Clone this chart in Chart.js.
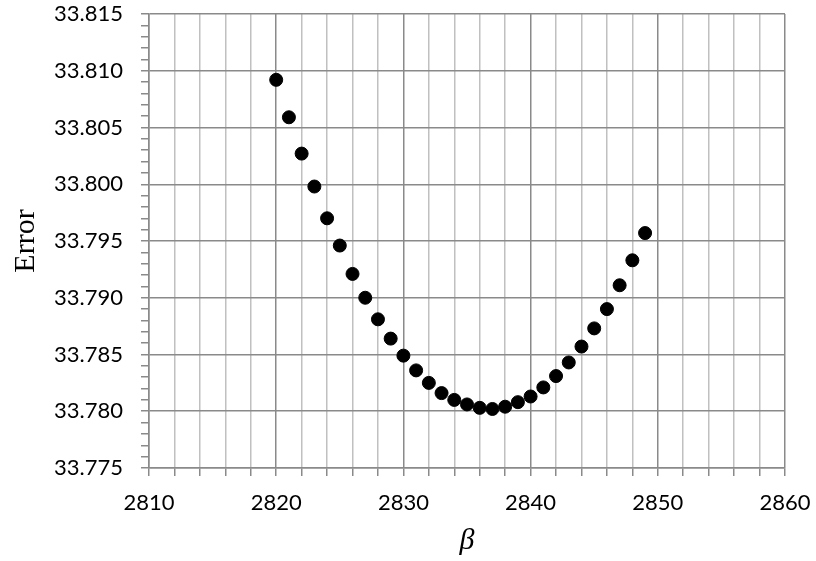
<!DOCTYPE html>
<html>
<head>
<meta charset="utf-8">
<script src="https://cdn.jsdelivr.net/npm/chart.js@4/dist/chart.umd.min.js"></script>
<style>
  html, body { margin: 0; padding: 0; background: #fff; }
  #wrap { width: 816px; height: 561px; }
</style>
</head>
<body>
<div id="wrap"><canvas id="chart" width="816" height="561"></canvas></div>
<script>
// beta values and the error at each one
const betas = [2820, 2821, 2822, 2823, 2824, 2825, 2826, 2827, 2828, 2829,
               2830, 2831, 2832, 2833, 2834, 2835, 2836, 2837, 2838, 2839,
               2840, 2841, 2842, 2843, 2844, 2845, 2846, 2847, 2848, 2849];
const errors = [33.8092, 33.8059, 33.8027, 33.7998, 33.7970, 33.7946, 33.7921, 33.7900, 33.7881, 33.7864,
                33.7849, 33.7836, 33.7825, 33.7816, 33.7810, 33.7806, 33.7803, 33.7802, 33.7804, 33.7808,
                33.7813, 33.7821, 33.7831, 33.7843, 33.7857, 33.7873, 33.7890, 33.7911, 33.7933, 33.7957];

const xMin = 2810, xMax = 2860;
const yMin = 33.775, yMax = 33.815;

const points = betas.map((b, i) => ({ x: b, y: errors[i] }));

const MAJOR = '#8a8a8a';
const MINOR = '#c0c0c0';
const tickFont = { family: 'Lato', size: 22 };

const isMajorY = v => Math.round(v * 1000) % 5 === 0;

new Chart(document.getElementById('chart'), {
  type: 'scatter',
  data: {
    datasets: [{
      data: points,
      backgroundColor: '#000',
      borderColor: '#000',
      pointRadius: 6.5,
      pointHoverRadius: 6.5
    }]
  },
  options: {
    responsive: false,
    animation: false,
    layout: { padding: { top: 14, right: 31, left: 0, bottom: 0 } },
    plugins: { legend: { display: false }, tooltip: { enabled: false } },
    scales: {
      x: {
        type: 'linear',
        min: xMin,
        max: xMax,
        // fixed axis box; edge labels may overhang into the outer padding
        afterFit: axis => { axis.height = 93; axis.paddingLeft = 0; axis.paddingRight = 0; },
        border: { color: MAJOR, width: 1.5 },
        grid: {
          color: ctx => (ctx.tick && ctx.tick.value % 10 === 0) ? MAJOR : MINOR,
          lineWidth: 1.5,
          tickColor: MAJOR,
          tickLength: 8
        },
        ticks: {
          stepSize: 2,
          autoSkip: false,
          maxRotation: 0,
          color: '#000',
          font: tickFont,
          padding: 14,
          callback: v => (v % 10 === 0 ? String(v) : '')
        },
        title: {
          display: true,
          text: 'β',
          color: '#000',
          font: { family: 'Liberation Serif', size: 30, style: 'italic' },
          padding: { top: 0, bottom: 2 }
        }
      },
      y: {
        type: 'linear',
        min: yMin,
        max: yMax,
        afterFit: axis => { axis.width = 149; axis.paddingTop = 0; axis.paddingBottom = 0; },
        border: { color: MAJOR, width: 1.5 },
        grid: {
          color: ctx => (ctx.tick && isMajorY(ctx.tick.value)) ? MAJOR : 'rgba(0,0,0,0)',
          lineWidth: 1.5,
          tickColor: MAJOR,
          tickLength: 8
        },
        ticks: {
          stepSize: 0.001,
          autoSkip: false,
          color: '#000',
          font: tickFont,
          padding: 18,
          callback: v => (isMajorY(v) ? v.toFixed(3) : '')
        },
        title: {
          display: true,
          text: 'Error',
          color: '#000',
          font: { family: 'Liberation Serif', size: 30 },
          padding: { top: 8, bottom: 0 }
        }
      }
    }
  }
});
</script>
</body>
</html>
